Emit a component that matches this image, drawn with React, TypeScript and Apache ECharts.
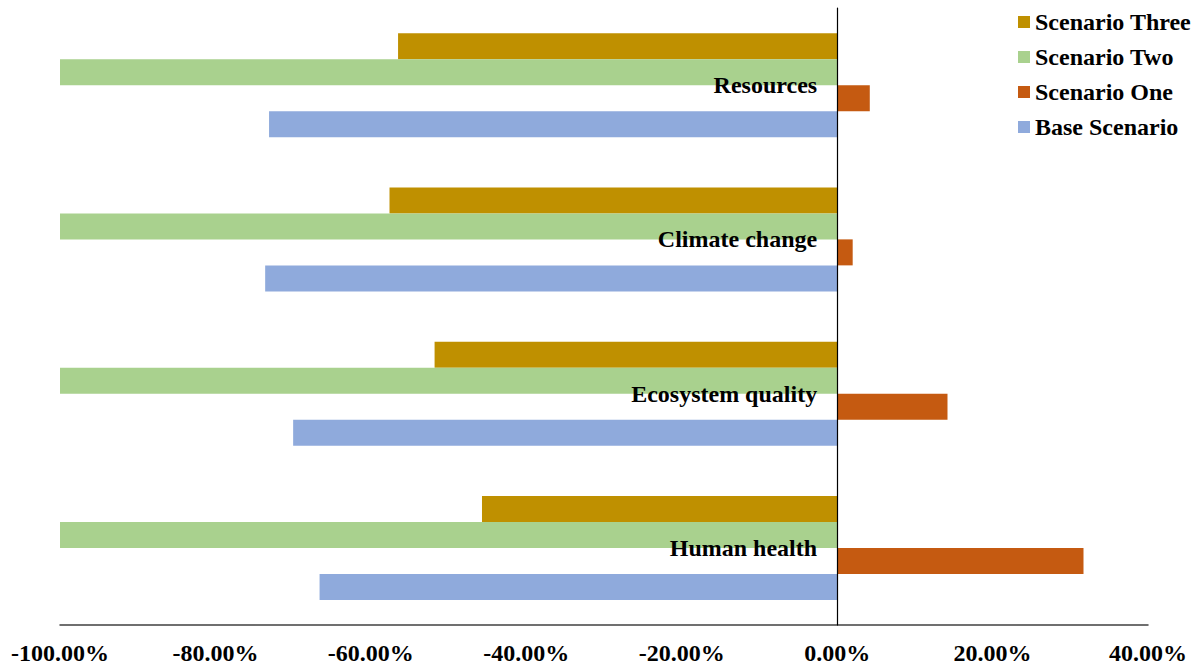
import React, { useEffect, useRef } from "react";
import * as echarts from "echarts";

// Impact categories, listed bottom to top along the vertical axis
const categories = ["Human health", "Ecosystem quality", "Climate change", "Resources"];

// Relative change per scenario (%), same order as categories
const baseScenario = [-66.6, -70.0, -73.6, -73.1];
const scenarioOne = [31.7, 14.2, 2.0, 4.2];
const scenarioTwo = [-100, -100, -100, -100];
const scenarioThree = [-45.7, -51.8, -57.6, -56.5];

const legendOrder = ["Scenario Three", "Scenario Two", "Scenario One", "Base Scenario"];

const FONT = "'Liberation Serif', 'Times New Roman', serif";

export default function App() {
  const ref = useRef<HTMLDivElement>(null);

  useEffect(() => {
    if (!ref.current) return;
    const chart = echarts.init(ref.current, null, { renderer: "svg" });

    const bar = (name: string, data: number[], color: string) => ({
      name,
      type: "bar",
      data,
      barWidth: 26,
      barGap: "0%",
      itemStyle: { color },
    });

    chart.setOption({
      animation: false,
      backgroundColor: "#ffffff",
      textStyle: { fontFamily: FONT },
      grid: {
        left: 60,
        right: 50,
        top: 8,
        bottom: 41,
        containLabel: false,
        outerBoundsMode: "none",
      },
      legend: {
        orient: "vertical",
        left: 1013,
        top: 5,
        data: legendOrder,
        itemWidth: 12,
        itemHeight: 12,
        itemGap: 11,
        icon: "rect",
        textStyle: {
          fontFamily: FONT,
          fontSize: 24,
          fontWeight: "bold",
          color: "#000000",
          lineHeight: 24,
          padding: [0, 0, 0, 0],
        },
      },
      xAxis: {
        type: "value",
        min: -100,
        max: 40,
        interval: 20,
        axisLine: { show: true, onZero: false, lineStyle: { color: "#404040", width: 1.5 } },
        axisTick: { show: false },
        splitLine: { show: false },
        axisLabel: {
          margin: 16,
          fontFamily: FONT,
          fontSize: 24,
          fontWeight: "bold",
          color: "#000000",
          formatter: (v: number) => v.toFixed(2) + "%",
        },
      },
      yAxis: {
        type: "category",
        data: categories,
        z: 10,
        axisLine: { show: true, onZero: true, lineStyle: { color: "#000000", width: 1.2 } },
        axisTick: { show: false },
        splitLine: { show: false },
        axisLabel: { show: false },
      },
      // series order sets the placement of bars inside each category (first = top)
      series: [
        bar("Scenario Three", scenarioThree, "#BF9000"),
        bar("Scenario Two", scenarioTwo, "#A9D18E"),
        bar("Scenario One", scenarioOne, "#C55A11"),
        bar("Base Scenario", baseScenario, "#8FAADC"),
        {
          // category names written just left of the zero line
          name: "category-labels",
          type: "scatter",
          z: 5,
          symbolSize: 0,
          silent: true,
          itemStyle: { opacity: 1 },
          data: categories.map((c) => ({ name: c, value: [0, c] })),
          label: {
            show: true,
            position: "left",
            distance: 20,
            formatter: (p: any) => p.name,
            fontFamily: FONT,
            fontSize: 24,
            fontWeight: "bold",
            color: "#000000",
            opacity: 1,
            textBorderWidth: 0,
          },
        },
      ],
    });

    return () => chart.dispose();
  }, []);

  return <div ref={ref} style={{ width: 1198, height: 666, position: "absolute", left: 0, top: 0 }} />;
}
